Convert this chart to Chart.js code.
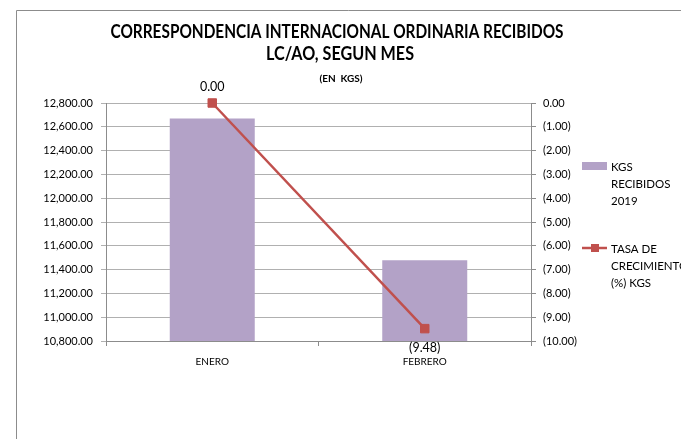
<!DOCTYPE html>
<html><head><meta charset="utf-8">
<script src="https://cdn.jsdelivr.net/npm/chart.js@4"></script>
<style>html,body{margin:0;padding:0;background:#fff}#wrap{position:relative;width:681px;height:439px}</style>
</head><body><div id="wrap"><canvas id="c" width="681" height="439"></canvas></div>
<script>
const categories = ['ENERO', 'FEBRERO'];
const kgsRecibidos = [12670, 11478];
const tasaCrecimiento = [0.00, -9.48];
const titleLines = ['CORRESPONDENCIA INTERNACIONAL ORDINARIA RECIBIDOS', 'LC/AO, SEGUN MES'];
const subtitleText = '(EN  KGS)';
const legendBarLines = ['KGS', 'RECIBIDOS', '2019'];
const legendLineLines = ['TASA DE', 'CRECIMIENTO', '(%) KGS'];
const leftMin = 10800, leftMax = 12800, leftStep = 200;
const rightMin = -10, rightMax = 0, rightStep = 1;

const FONT = 'Lato, "Open Sans", sans-serif';
const BAR_COLOR = '#B3A2C7';
const LINE_COLOR = '#C0504D';
const GRID = '#B0B0B0';
const AXIS = '#8C8C8C';

function fmt(n) {
  const s = Math.abs(n).toLocaleString('en-US', {minimumFractionDigits: 2, maximumFractionDigits: 2});
  return n < -1e-9 ? '(' + s + ')' : s;
}

const decor = {
  id: 'decor',
  afterDraw(chart) {
    const ctx = chart.ctx;
    ctx.save();
    // outer frame
    ctx.strokeStyle = '#8C8C8C';
    ctx.lineWidth = 1;
    ctx.beginPath();
    ctx.moveTo(16.5, 439);
    ctx.lineTo(16.5, 10.5);
    ctx.lineTo(681, 10.5);
    ctx.stroke();
    // titles
    ctx.fillStyle = '#000';
    ctx.textAlign = 'center';
    ctx.textBaseline = 'middle';
    ctx.font = 'bold 19px ' + FONT;
    ctx.fillText(titleLines[0], 337, 32, 453);
    ctx.fillText(titleLines[1], 340, 54, 148);
    ctx.font = 'bold 10px ' + FONT;
    ctx.fillText(subtitleText, 341, 79);
    // data labels
    const meta = chart.getDatasetMeta(1);
    ctx.font = '12.5px ' + FONT;
    meta.data.forEach((pt, i) => {
      const v = tasaCrecimiento[i];
      const y = i === 0 ? pt.y - 16 : pt.y + 19;
      ctx.fillText(fmt(v), pt.x, y);
    });
    // legend
    ctx.fillStyle = BAR_COLOR;
    ctx.fillRect(582, 162, 25, 8);
    ctx.strokeStyle = LINE_COLOR;
    ctx.lineWidth = 2.5;
    ctx.beginPath();
    ctx.moveTo(582, 248);
    ctx.lineTo(607, 248);
    ctx.stroke();
    ctx.fillStyle = LINE_COLOR;
    ctx.fillRect(591, 244, 8, 8);
    ctx.fillStyle = '#000';
    ctx.textAlign = 'left';
    ctx.font = '11.5px ' + FONT;
    legendBarLines.forEach((t, i) => ctx.fillText(t, 611, 167 + i * 17));
    legendLineLines.forEach((t, i) => ctx.fillText(t, 611, 249 + i * 17));
    ctx.restore();
  }
};

new Chart(document.getElementById('c'), {
  data: {
    labels: categories,
    datasets: [
      {
        type: 'bar',
        label: 'KGS RECIBIDOS 2019',
        data: kgsRecibidos,
        yAxisID: 'y',
        backgroundColor: BAR_COLOR,
        categoryPercentage: 0.8,
        barPercentage: 0.5,
        order: 1
      },
      {
        type: 'line',
        label: 'TASA DE CRECIMIENTO (%) KGS',
        data: tasaCrecimiento,
        yAxisID: 'y1',
        borderColor: LINE_COLOR,
        borderWidth: 2.5,
        pointStyle: 'rect',
        pointRadius: 6,
        pointBackgroundColor: LINE_COLOR,
        pointBorderColor: LINE_COLOR,
        pointBorderWidth: 1,
        tension: 0,
        clip: false,
        order: 0
      }
    ]
  },
  options: {
    responsive: false,
    animation: false,
    devicePixelRatio: 1,
    layout: {padding: {left: 16, right: 100, top: 103, bottom: 58}},
    plugins: {legend: {display: false}, title: {display: false}, tooltip: {enabled: false}},
    scales: {
      x: {
        offset: true,
        grid: {display: true, offset: true, drawOnChartArea: false, drawTicks: true, tickLength: 5, color: AXIS},
        border: {display: true, color: AXIS},
        ticks: {font: {family: FONT, size: 10}, color: '#000', padding: 10},
        afterFit(s) { s.height = 40; }
      },
      y: {
        position: 'left',
        min: leftMin, max: leftMax,
        ticks: {stepSize: leftStep, callback: v => fmt(v), font: {family: FONT, size: 11}, color: '#000', padding: 8},
        grid: {color: GRID, tickLength: 5, drawTicks: true},
        border: {display: true, color: AXIS},
        afterFit(s) { s.width = 90; }
      },
      y1: {
        position: 'right',
        min: rightMin, max: rightMax,
        ticks: {stepSize: rightStep, callback: v => fmt(v), font: {family: FONT, size: 11}, color: '#000', padding: 7},
        grid: {drawOnChartArea: false, tickLength: 5, color: AXIS},
        border: {display: true, color: AXIS},
        afterFit(s) { s.width = 50; }
      }
    }
  },
  plugins: [decor]
});
</script>
</body></html>
